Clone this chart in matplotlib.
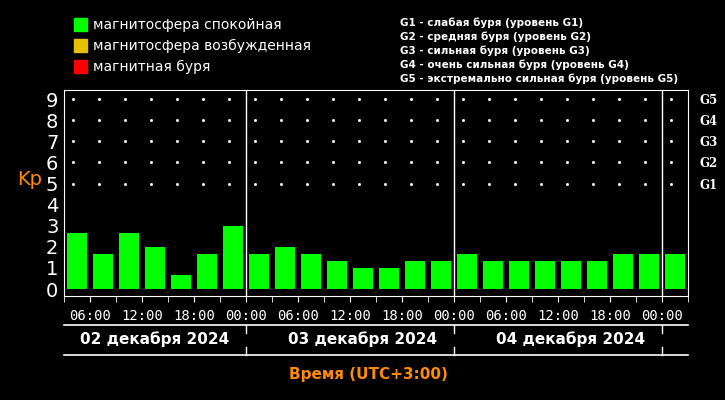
import matplotlib
matplotlib.use("Agg")
import matplotlib.pyplot as plt
from matplotlib.transforms import blended_transform_factory
from matplotlib.patches import Rectangle

kp = [2.67, 1.67, 2.67, 2.0, 0.67, 1.67, 3.0,
      1.67, 2.0, 1.67, 1.33, 1.0, 1.0, 1.33, 1.33,
      1.67, 1.33, 1.33, 1.33, 1.33, 1.33, 1.67, 1.67, 1.67]
hours = [4.5 + 3 * i for i in range(len(kp))]
time_ticks = [6, 12, 18, 24, 30, 36, 42, 48, 54, 60, 66, 72]
time_labels = ["06:00", "12:00", "18:00", "00:00"] * 3
dates = ["02 декабря 2024", "03 декабря 2024", "04 декабря 2024"]
g_levels = ["G1", "G2", "G3", "G4", "G5"]
legend_items = [("магнитосфера спокойная", "#00ff00"),
                ("магнитосфера возбужденная", "#e6c000"),
                ("магнитная буря", "#ff0000")]
storm_text = ["G1 - слабая буря (уровень G1)",
              "G2 - средняя буря (уровень G2)",
              "G3 - сильная буря (уровень G3)",
              "G4 - очень сильная буря (уровень G4)",
              "G5 - экстремально сильная буря (уровень G5)"]

W, H = 725, 400
fig = plt.figure(figsize=(7.25, 4), dpi=100, facecolor="black")
ax = fig.add_axes([64 / W, 1 - 296 / H, 624 / W, 206 / H], facecolor="black")
ax.bar(hours, kp, width=2.4, color="#00ff00", zorder=3)
ax.set_xlim(3, 75)
ax.set_ylim(-0.33, 9.43)
for s in ax.spines.values():
    s.set_color("white")
for d in [24, 48, 72]:
    ax.axvline(d, color="white", lw=1, zorder=4)
for y in range(5, 10):
    ax.plot([4 + 3 * i for i in range(24)], [y] * 24, ls="none", marker="s",
            ms=1, color="white", zorder=2)
ax.set_yticks(range(10))
ax.set_yticklabels([str(i) for i in range(10)], color="white", fontsize=14)
ax.tick_params(axis="y", colors="white", length=0, pad=4)
ax.set_xticks(range(3, 76, 3), minor=True)
ax.set_xticks(time_ticks)
ax.set_xticklabels(time_labels, color="white", fontsize=10, family="DejaVu Sans Mono")
ax.tick_params(axis="x", which="both", colors="white", length=4, direction="out", pad=5)
ax.set_ylabel("Kp", color="#ff8c00", fontsize=14, rotation=0, labelpad=14)
ax.yaxis.set_label_coords(-0.055, 0.52)

ax2 = ax.twinx()
ax2.set_ylim(ax.get_ylim())
ax2.set_yticks(range(5, 10))
ax2.set_yticklabels(g_levels, color="white", fontsize=8.5, family="DejaVu Serif", fontweight="bold")
ax2.tick_params(axis="y", colors="white", length=0, pad=8)
for s in ax2.spines.values():
    s.set_visible(False)

tr = blended_transform_factory(ax.transData, fig.transFigure)
fy = lambda py: 1 - py / H
for yy in [325, 355]:
    ax.plot([3, 75], [fy(yy), fy(yy)], color="white", lw=1.2, transform=tr, clip_on=False)
for d in [24, 48, 72]:
    ax.plot([d, d], [fy(325), fy(333)], color="white", lw=1, transform=tr, clip_on=False)
    ax.plot([d, d], [fy(347), fy(355)], color="white", lw=1, transform=tr, clip_on=False)
for i, t in enumerate(dates):
    ax.text(13.5 + 24 * i, fy(339), t, transform=tr, color="white", fontsize=11,
            fontweight="bold", ha="center", va="center")
fig.text(368 / W, fy(375), "Время (UTC+3:00)", color="#ff8c00", fontsize=11,
         fontweight="bold", ha="center", va="center")

for i, (t, c) in enumerate(legend_items):
    y = 25 + 21 * i
    fig.patches.append(Rectangle(((74) / W, fy(y + 6)), 13 / W, 13 / H, color=c,
                                 transform=fig.transFigure))
    fig.text(93 / W, fy(y), t, color="white", fontsize=10, va="center")
for i, t in enumerate(storm_text):
    fig.text(400 / W, fy(23 + 14 * i), t, color="white", fontsize=7.5,
             fontweight="bold", va="center")

fig.savefig("out.png", dpi=100, facecolor="black")
